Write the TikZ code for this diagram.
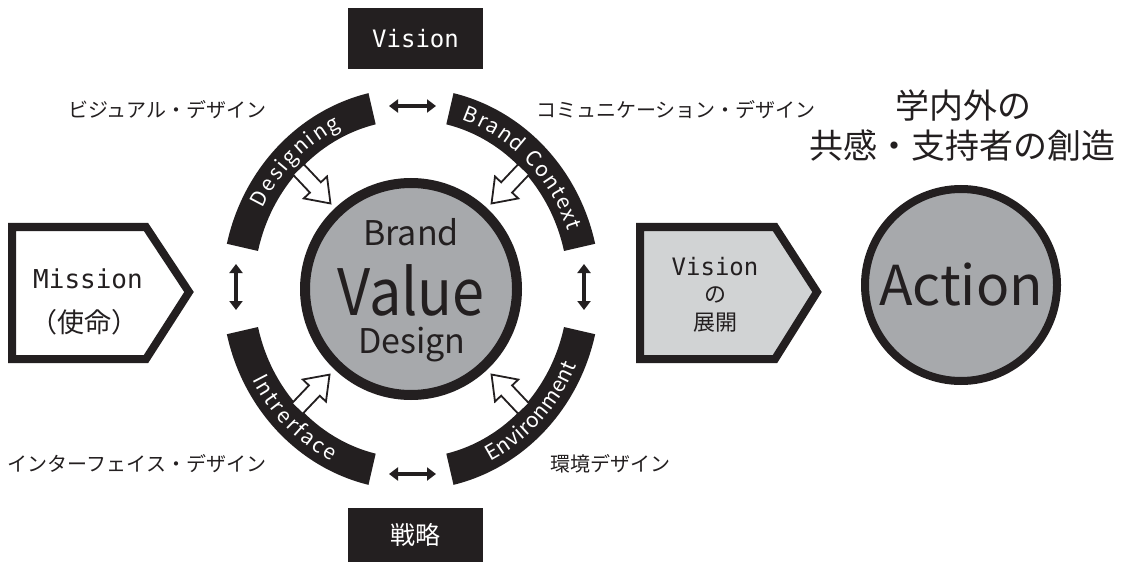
\documentclass[tikz,border=0pt]{standalone}
\usepackage{fontspec}
\setmainfont{Noto Sans CJK JP}
\newfontfamily\monofont{DejaVu Sans Mono}
\usetikzlibrary{arrows.meta,decorations.text}
\definecolor{ink}{HTML}{231F20}
\definecolor{coregray}{HTML}{A7A9AC}
\definecolor{palegray}{HTML}{D1D3D4}
\newcommand\ringfont{\fontsize{21}{21}\selectfont}
\newcommand\fs[1]{\fontsize{#1}{#1}\selectfont}

\begin{document}
\begin{tikzpicture}[x=1pt, y=1pt, every node/.style={inner sep=0pt, text=ink},
  blackbox/.style={fill=ink, text=white, minimum width=135pt},
  dbl/.style={{Triangle[length=9pt,width=13pt]}-{Triangle[length=9pt,width=13pt]}, line width=3.5pt, draw=ink},
  hollow/.style={draw=ink, fill=white, line width=1.8pt, line join=miter},
  tag/.style={font=\fs{20}},
  ringtext/.style={decorate, decoration={text along path, text color=white, text align=fit to path, raise=-7pt, text={|\ringfont|#1}}}]
  \useasboundingbox (0,0) rectangle (1131,563);

  % Vision / 戦略
  \node[blackbox, minimum height=61pt, font=\monofont\fs{24}] (vision) at (415.5,524.5) {Vision};
  \node[blackbox, minimum height=54pt, font=\fs{25}] (strategy) at (415.5,28) {戦略};

  % ring
  \begin{scope}[shift={(411,274)}]
    \foreach \a/\b in {103/167, 13/77, 193/257, 283/347}
      \fill[ink] (\a:189pt and 201pt) arc[start angle=\a, end angle=\b, x radius=189pt, y radius=201pt]
        -- (\b:157pt and 169pt) arc[start angle=\b, end angle=\a, x radius=157pt, y radius=169pt] -- cycle;
    \path[ringtext=Designing] (153:173pt and 185pt) arc[start angle=153, end angle=115, x radius=173pt, y radius=185pt];
    \path[ringtext=Brand Context] (72:173pt and 185pt) arc[start angle=72, end angle=19, x radius=173pt, y radius=185pt];
    \path[ringtext=Intrerface] (208:173pt and 185pt) arc[start angle=208, end angle=244, x radius=173pt, y radius=185pt];
    \path[ringtext=Environment] (296:173pt and 185pt) arc[start angle=296, end angle=336, x radius=173pt, y radius=185pt];
  \end{scope}

  % arrows between the ring parts
  \coordinate (t1) at (389,457); \coordinate (t2) at (436,457);
  \coordinate (b1) at (389,89);  \coordinate (b2) at (436,89);
  \coordinate (l1) at (236,299); \coordinate (l2) at (236,253);
  \coordinate (r1) at (584,299); \coordinate (r2) at (584,253);
  \draw[dbl] (t1) -- (t2);
  \draw[dbl] (b1) -- (b2);
  \draw[dbl] (l1) -- (l2);
  \draw[dbl] (r1) -- (r2);

  % core
  \node[circle, draw=ink, line width=10pt, fill=coregray, minimum size=212pt] (core) at (411,274) {};
  \node[anchor=base, font=\fs{34}] (brand) at (411,318) {Brand};
  \node[anchor=base, font=\fs{64}\addfontfeature{FakeStretch=0.9}] (value) at (411,248) {Value};
  \node[anchor=base, font=\fs{34}] (design) at (412,210) {Design};

  % hollow arrows into the core
  \foreach \x/\y/\r in {314/377/-46.7, 508/377/226.7, 313/171/46.4, 508/171/133.3}
    \draw[hollow, shift={(\x,\y)}, rotate=\r] (-23,-7.5) -- (2,-7.5) -- (2,-16) -- (24,0) -- (2,16) -- (2,7.5) -- (-23,7.5) -- cycle;

  % Mission
  \draw[ink, line width=8pt, fill=white] (12,336) -- (146,336) -- (189,271) -- (146,204) -- (12,204) -- cycle;
  \node[anchor=base, font=\monofont\fs{26}] (mission) at (88,275) {Mission};
  \node[font=\fs{27}] (missionjp) at (84,241) {（使命）};

  % Vision の展開
  \draw[ink, line width=8pt, fill=palegray] (640,336) -- (775,336) -- (817,271) -- (775,204) -- (640,204) -- cycle;
  \node[anchor=base, font=\monofont\fs{24}] (expand) at (715,288) {Vision};
  \node[font=\fs{22}] (no) at (715,268) {の};
  \node[font=\fs{22}] (tenkai) at (715,240) {展開};

  % Action
  \node[circle, draw=ink, line width=8pt, fill=coregray, minimum size=192pt, font=\fs{55}] (action) at (961,278) {Action};
  \node[font=\fs{34}] (goal1) at (963,457) {学内外の};
  \node[font=\fs{34}] (goal2) at (962,417) {共感・支持者の創造};

  % labels
  \node[tag] (visual) at (167,453) {ビジュアル・デザイン};
  \node[tag] (comm) at (676,453) {コミュニケーション・デザイン};
  \node[tag] (iface) at (137,99) {インターフェイス・デザイン};
  \node[tag] (env) at (610,99) {環境デザイン};
\end{tikzpicture}
\end{document}
